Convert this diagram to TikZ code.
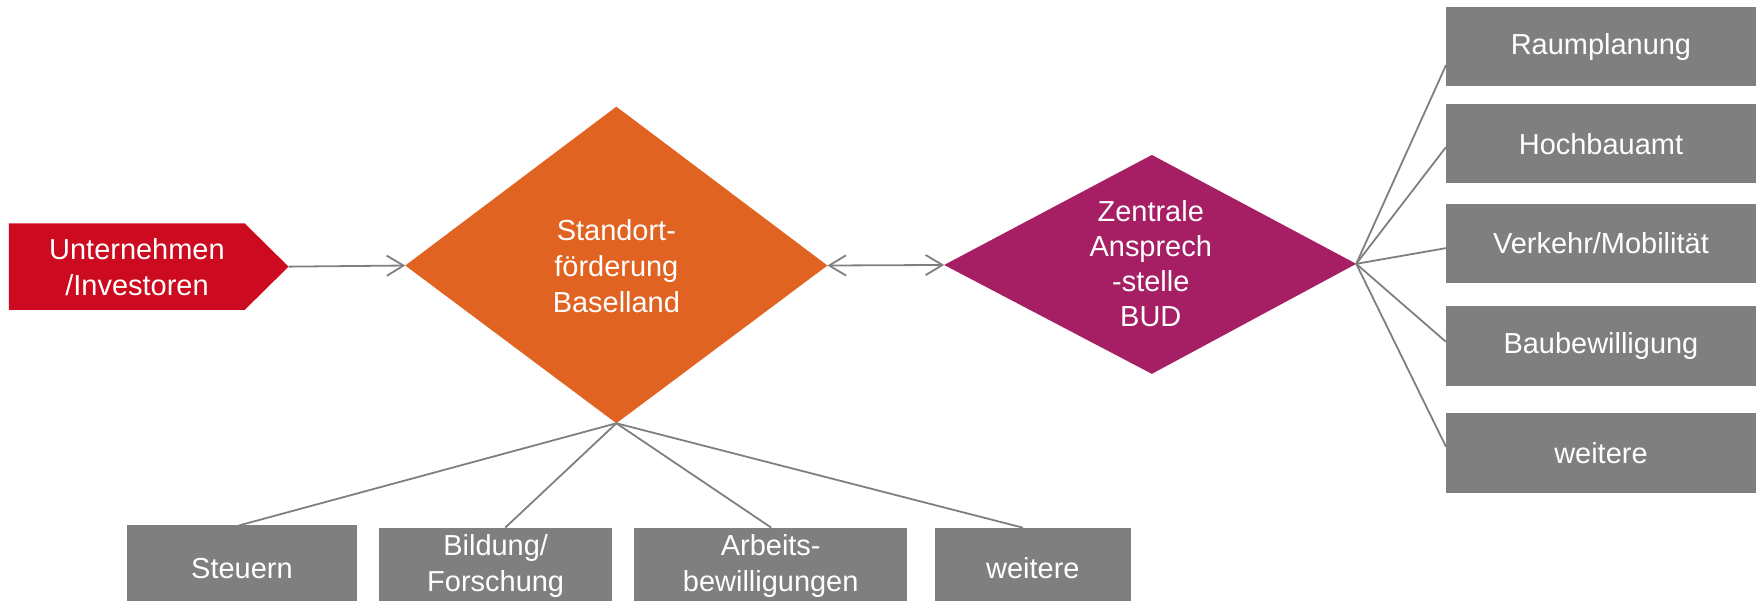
\documentclass[tikz,border=0pt]{standalone}
\usepackage{fontspec}
\setmainfont{Liberation Sans}
\usetikzlibrary{arrows.meta}
\definecolor{cred}{HTML}{CC0A20}
\definecolor{corange}{HTML}{E06322}
\definecolor{cpurple}{HTML}{A61F64}
\definecolor{cgray}{HTML}{7F7F7F}
\begin{document}
\begin{tikzpicture}[x=1pt,y=-1pt,
  lbl/.style={text=white,align=center,font=\fontsize{25.8}{32}\selectfont,inner sep=0pt},
  gbox/.style={fill=cgray,draw=none,inner sep=0pt},
  conn/.style={draw=cgray,line width=1.6pt},
  barb/.tip={Straight Barb[length=15pt,width=18pt,line width=1.6pt]}]
\useasboundingbox (0,0) rectangle (1565,535.3);
\clip (0,0) rectangle (1565,535.3);
% red pentagon
\coordinate (uTip) at (257,237.5);
\fill[cred] (8,199) -- (218,199) -- (uTip) -- (218,276) -- (8,276) -- cycle;
\node[lbl] (uText) at (122,238) {Unternehmen\\/Investoren};
% orange diamond
\coordinate (sT) at (549,95);
\coordinate (sL) at (361,236.5);
\coordinate (sR) at (737,236.5);
\coordinate (sB) at (549,377);
\fill[corange] (sT) -- (sR) -- (sB) -- (sL) -- cycle;
\node[lbl] (sText) at (549,237) {Standort-\\förderung\\Baselland};
% purple diamond
\coordinate (zT) at (1026,138);
\coordinate (zL) at (841,236);
\coordinate (zR) at (1208,235);
\coordinate (zB) at (1026,333);
\fill[cpurple] (zT) -- (zR) -- (zB) -- (zL) -- cycle;
\node[lbl,font=\fontsize{25.8}{31}\selectfont] (zText) at (1025,235) {Zentrale\\Ansprech\\-stelle\\BUD};
% right boxes
\path[gbox] (1288,6) rectangle (1564,77);
\node[lbl] (r1) at (1426,41.5) {Raumplanung};
\path[gbox] (1288,92.6) rectangle (1564,163);
\node[lbl] (r2) at (1426,128) {Hochbauamt};
\path[gbox] (1288,181.7) rectangle (1564,252);
\node[lbl] (r3) at (1426,217) {Verkehr/Mobilität};
\path[gbox] (1288,272.6) rectangle (1564,343.5);
\node[lbl] (r4) at (1426,308) {Baubewilligung};
\path[gbox] (1288,368) rectangle (1564,439);
\node[lbl] (r5) at (1426,403.5) {weitere};
\coordinate (c1) at (1288,58);
\coordinate (c2) at (1288,131);
\coordinate (c3) at (1288,221);
\coordinate (c4) at (1288,304.5);
\coordinate (c5) at (1288,398);
\foreach \c in {c1,c2,c3,c4,c5} \draw[conn] (zR) -- (\c);
% bottom boxes
\path[gbox] (113,468) rectangle (318,545);
\node[lbl] (b1) at (215.5,506) {Steuern};
\path[gbox] (338,470) rectangle (545,545);
\node[lbl] (b2) at (441.5,504) {Bildung/\\Forschung};
\path[gbox] (565,470) rectangle (808,545);
\node[lbl] (b3) at (686.5,504) {Arbeits-\\bewilligungen};
\path[gbox] (833,470) rectangle (1007,545);
\node[lbl] (b4) at (920,506) {weitere};
\coordinate (d1) at (213,468);
\coordinate (d2) at (450,470);
\coordinate (d3) at (687,470);
\coordinate (d4) at (911,470);
\foreach \d in {d1,d2,d3,d4} \draw[conn] (sB) -- (\d);
% arrows
\draw[conn,-barb] (uTip) -- (sL);
\draw[conn,barb-barb] (sR) -- (zL);
\end{tikzpicture}
\end{document}
